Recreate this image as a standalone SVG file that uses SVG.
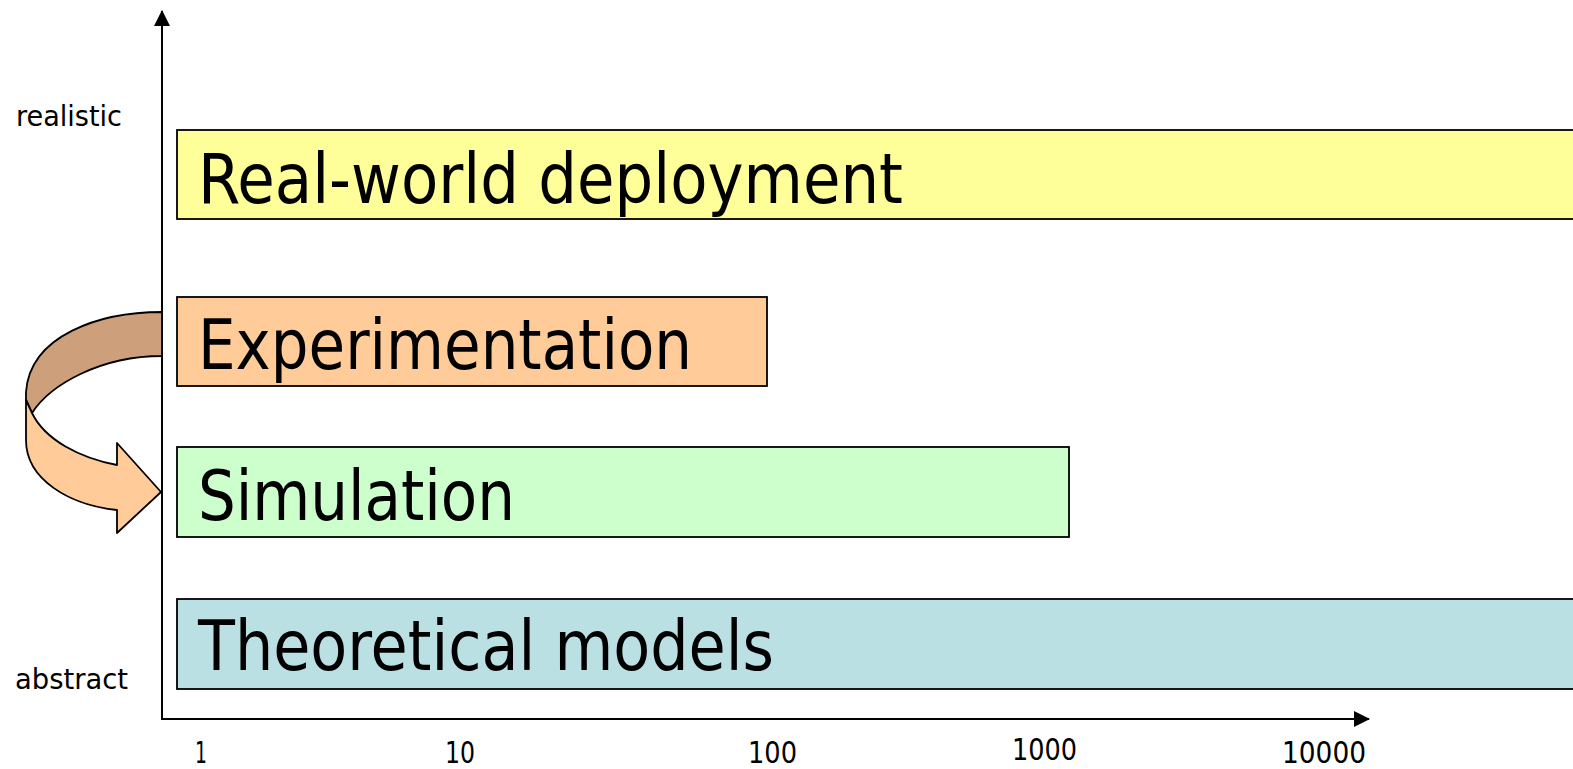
<svg xmlns="http://www.w3.org/2000/svg" width="1573" height="769" viewBox="0 0 1573 769">
<style>
.bar{stroke:#000;stroke-width:1.8}
.big{font-family:"DejaVu Sans Condensed","DejaVu Sans","Liberation Sans",sans-serif;font-size:70px;fill:#000}
.small{font-family:"DejaVu Sans Condensed","DejaVu Sans","Liberation Sans",sans-serif;font-size:29px;fill:#000}
.tick{font-family:"DejaVu Sans Condensed","DejaVu Sans","Liberation Sans",sans-serif;font-size:31px;fill:#000}
.axis{stroke:#000;stroke-width:2;fill:none}
.arrowbody{stroke:#000;stroke-width:1.8;stroke-linejoin:round}
</style>
<defs>
<marker id="ah" markerWidth="16" markerHeight="16" refX="15" refY="8" orient="auto" markerUnits="userSpaceOnUse">
<path d="M0,0 L16,8 L0,16 Z" fill="#000"/>
</marker>
</defs>
<rect width="1573" height="769" fill="#fff"/>

<g id="connectors">
<line class="axis" x1="162" y1="719" x2="162" y2="11" marker-end="url(#ah)"/>
<line class="axis" x1="161" y1="719" x2="1369" y2="719" marker-end="url(#ah)"/>
</g>

<g id="node-realworld">
<rect class="bar" x="177" y="130" width="1410" height="89" fill="#FFFF99"/>
<text class="big" x="198" y="203" textLength="705" lengthAdjust="spacingAndGlyphs">Real-world deployment</text>
</g>
<g id="node-experimentation">
<rect class="bar" x="177" y="297" width="590" height="89" fill="#FFCC99"/>
<text class="big" x="198" y="369" textLength="494" lengthAdjust="spacingAndGlyphs">Experimentation</text>
</g>
<g id="node-simulation">
<rect class="bar" x="177" y="447" width="892" height="90" fill="#CCFFCC"/>
<text class="big" x="198" y="520" textLength="317" lengthAdjust="spacingAndGlyphs">Simulation</text>
</g>
<g id="node-theoretical">
<rect class="bar" x="177" y="599" width="1410" height="90" fill="#BBE0E3"/>
<text class="big" x="198" y="670" textLength="576" lengthAdjust="spacingAndGlyphs">Theoretical models</text>
</g>

<g id="curved-arrow">
<path class="arrowbody" fill="#CDA07B" d="M162,312 C100,312 30,335 26,392 L26,400 L32,413 C50,385 100,356 162,356 Z"/>
<path class="arrowbody" fill="#FFCC99" d="M26,400 L26,440 C26,480 70,505 117,510 L117,533 L161,492 L117,443 L117,465 C80,458 45,440 32,413 Z"/>
</g>

<g id="labels">
<text class="small" x="16" y="126" textLength="106" lengthAdjust="spacingAndGlyphs">realistic</text>
<text class="small" x="15" y="689" textLength="113" lengthAdjust="spacingAndGlyphs">abstract</text>
<text class="tick" x="195" y="763" textLength="12" lengthAdjust="spacingAndGlyphs">1</text>
<text class="tick" x="445" y="763" textLength="30" lengthAdjust="spacingAndGlyphs">10</text>
<text class="tick" x="748" y="763" textLength="49" lengthAdjust="spacingAndGlyphs">100</text>
<text class="tick" x="1012" y="760" textLength="65" lengthAdjust="spacingAndGlyphs">1000</text>
<text class="tick" x="1282" y="763" textLength="84" lengthAdjust="spacingAndGlyphs">10000</text>
</g>
</svg>
